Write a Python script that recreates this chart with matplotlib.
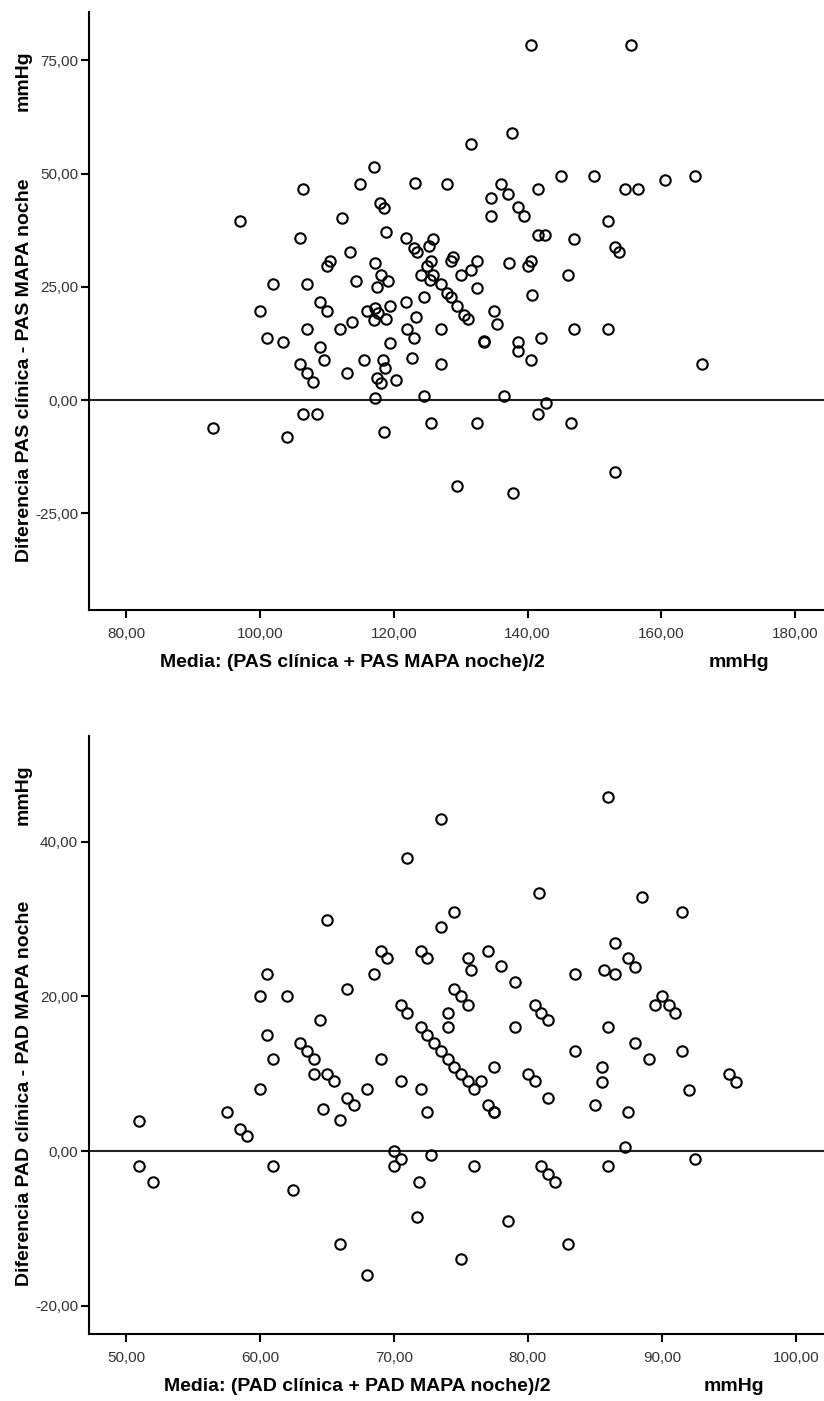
import matplotlib
matplotlib.use("Agg")
import matplotlib.pyplot as plt
from matplotlib.ticker import FuncFormatter

plt.rcParams['font.family'] = ['Liberation Sans', 'DejaVu Sans']

# Bland-Altman, PAS: media (x) y diferencia (y)
pas_media = [97.0, 106.5, 117.1, 115.0, 123.2, 118.0, 118.5, 112.2, 118.8, 106.0,
             121.9, 123.0, 123.4, 113.5, 110.5, 110.0, 117.2, 118.1, 119.2, 114.3,
             117.5, 102.0, 107.0, 109.0, 110.0, 100.0, 116.0, 117.2, 117.7, 119.4,
             121.9, 140.5, 155.5, 137.7, 131.5, 128.0, 136.0, 137.0, 134.5, 138.5,
             139.5, 134.5, 141.5, 145.0, 150.0, 154.5, 156.5, 160.5, 165.0, 152.0,
             141.5, 142.6, 147.0, 153.1, 153.6, 125.9, 125.3, 125.5, 124.9, 128.9,
             128.5, 132.5, 131.5, 130.0, 137.2, 140.5, 140.0, 124.0, 125.9, 125.4,
             127.0, 128.0, 128.5, 129.5, 130.5, 131.1, 132.5, 135.0, 146.0, 140.7,
             124.5, 123.3, 135.5, 117.0, 118.9, 122.0, 123.0, 127.0, 133.5, 133.5,
             138.5, 138.5, 142.0, 140.5, 107.0, 112.0, 113.7, 101.0, 103.5, 109.0,
             109.5, 106.0, 107.0, 108.0, 113.0, 115.5, 118.4, 118.7, 117.5, 118.1,
             120.3, 122.7, 127.0, 117.2, 124.5, 136.5, 142.7, 141.5, 106.5, 108.5,
             125.5, 132.5, 93.0, 104.0, 118.5, 119.4, 147.0, 152.0, 166.0, 146.5,
             153.1, 129.5, 137.8]
pas_diff = [39.6, 46.5, 51.5, 47.6, 48.0, 43.6, 42.5, 40.1, 37.1, 35.7,
            35.7, 33.5, 32.7, 32.6, 30.7, 29.6, 30.2, 27.6, 26.3, 26.3,
            24.9, 25.6, 25.6, 21.7, 19.7, 19.7, 19.7, 20.3, 19.2, 20.7,
            21.7, 78.3, 78.3, 59.0, 56.5, 47.6, 47.6, 45.6, 44.6, 42.6,
            40.6, 40.6, 46.5, 49.5, 49.5, 46.5, 46.5, 48.5, 49.5, 39.6,
            36.5, 36.5, 35.6, 33.7, 32.6, 35.6, 34.0, 30.7, 29.6, 31.6,
            30.7, 30.7, 28.7, 27.6, 30.2, 30.7, 29.6, 27.6, 27.6, 26.6,
            25.6, 23.7, 22.7, 20.7, 18.8, 17.8, 24.8, 19.7, 27.6, 23.2,
            22.8, 18.3, 16.8, 17.6, 17.8, 15.8, 13.7, 15.8, 12.9, 13.1,
            12.9, 10.8, 13.7, 8.8, 15.8, 15.8, 17.3, 13.8, 12.9, 11.8,
            8.8, 7.9, 5.9, 3.9, 5.9, 8.8, 8.8, 7.2, 5.0, 3.8,
            4.4, 9.3, 7.9, 0.4, 0.9, 0.9, -0.6, -3.1, -3.1, -3.1,
            -5.1, -5.1, -6.1, -8.1, -7.1, 12.7, 15.7, 15.7, 7.9, -5.1,
            -15.9, -18.9, -20.4]

# Bland-Altman, PAD
pad_media = [71.0, 65.0, 69.0, 69.5, 60.5, 68.5, 60.0, 62.0, 66.5, 70.5,
             71.0, 64.5, 60.5, 86.0, 73.5, 80.8, 88.5, 91.5, 74.5, 73.5,
             72.0, 72.5, 77.0, 75.5, 75.75, 78.0, 79.0, 83.5, 85.7, 86.5,
             86.5, 87.5, 88.0, 74.5, 75.0, 75.5, 80.5, 81.0, 81.5, 90.0,
             89.5, 90.5, 91.0, 74.0, 72.0, 72.5, 74.0, 79.0, 86.0, 63.0,
             63.5, 64.0, 64.0, 65.0, 65.5, 61.0, 60.0, 69.0, 66.5, 67.0,
             68.0, 64.7, 66.0, 70.5, 72.0, 72.5, 73.0, 73.5, 74.0, 74.5,
             75.0, 75.5, 76.0, 76.5, 77.5, 77.0, 77.5, 77.5, 80.0, 80.5,
             81.5, 70.0, 70.5, 70.0, 72.8, 61.0, 76.0, 81.0, 59.0, 51.0,
             51.0, 52.0, 57.5, 58.5, 62.5, 66.0, 68.0, 71.9, 71.7, 83.5,
             85.0, 85.5, 85.5, 88.0, 89.0, 87.5, 91.5, 92.0, 95.0, 95.5,
             87.25, 92.5, 81.5, 82.0, 86.0, 78.5, 83.0, 75.0]
pad_diff = [37.9, 29.9, 25.9, 24.9, 22.9, 22.9, 20.0, 20.0, 20.9, 18.9,
            17.9, 16.9, 15.0, 45.8, 42.9, 33.4, 32.9, 30.9, 30.9, 28.9,
            25.9, 24.9, 25.9, 24.9, 23.4, 23.9, 21.9, 22.9, 23.4, 22.9,
            26.9, 24.9, 23.8, 20.9, 20.0, 18.9, 18.9, 17.9, 16.9, 20.0,
            18.9, 18.9, 17.9, 17.9, 16.0, 15.0, 16.0, 16.0, 16.0, 13.9,
            12.9, 11.9, 9.9, 9.9, 9.0, 11.9, 8.0, 11.9, 6.9, 5.9,
            8.0, 5.4, 4.0, 9.0, 8.0, 5.0, 13.9, 12.9, 11.9, 10.9,
            9.9, 9.0, 8.0, 9.0, 10.9, 5.9, 5.0, 5.1, 9.9, 9.0,
            6.9, 0.0, -1.0, -2.0, -0.5, -2.0, -2.0, -2.0, 1.9, 3.9,
            -2.0, -4.0, 5.0, 2.9, -5.0, -12.0, -16.0, -4.0, -8.5, 12.9,
            5.9, 10.9, 8.9, 13.9, 11.9, 5.0, 12.9, 7.9, 9.9, 8.9,
            0.5, -1.0, -3.0, -4.0, -2.0, -9.0, -12.0, -14.0]

pas_xticks = [80, 100, 120, 140, 160, 180]
pas_yticks = [-25, 0, 25, 50, 75]
pad_xticks = [50, 60, 70, 80, 90, 100]
pad_yticks = [-20, 0, 20, 40]

coma = FuncFormatter(lambda v, pos: f"{v:.2f}".replace('.', ','))


def bland_altman(ax, media, diff, xlim, ylim, xticks, yticks, xlabel, ylabel,
                 xlab_pos, ylab_pos, xunit_pos, yunit_pos):
    ax.plot(media, diff, linestyle='none', marker='o', markersize=7.5,
            markerfacecolor='none', markeredgecolor='black', markeredgewidth=1.5,
            clip_on=False, zorder=3)
    ax.axhline(0, color='#222222', linewidth=1.5, zorder=2)
    ax.set_xlim(*xlim)
    ax.set_ylim(*ylim)
    ax.set_xticks(xticks)
    ax.set_yticks(yticks)
    ax.xaxis.set_major_formatter(coma)
    ax.yaxis.set_major_formatter(coma)
    for side in ['top', 'right']:
        ax.spines[side].set_visible(False)
    for side in ['left', 'bottom']:
        ax.spines[side].set_linewidth(1.5)
    ax.tick_params(direction='out', length=6, width=1.5, labelsize=11,
                   labelcolor='#333333', pad=2)
    ax.tick_params(axis='x', pad=6)
    ax.set_xlabel(xlabel, fontsize=14, fontweight='bold')
    ax.xaxis.set_label_coords(*xlab_pos)
    ax.set_ylabel(ylabel, fontsize=14, fontweight='bold')
    ax.yaxis.set_label_coords(*ylab_pos)
    ax.text(*xunit_pos, 'mmHg', transform=ax.transAxes, fontsize=14,
            fontweight='bold', ha='center', va='top')
    ax.text(*yunit_pos, 'mmHg', transform=ax.transAxes, fontsize=14,
            fontweight='bold', ha='center', va='center', rotation=90)


fig = plt.figure(figsize=(8.24, 14.01), dpi=100)

ax1 = fig.add_axes([0.1084, 0.5646, 0.8916, 0.4270])
bland_altman(ax1, pas_media, pas_diff, (74.5, 184.3), (-46.3, 85.7),
             pas_xticks, pas_yticks,
             'Media: (PAS clínica + PAS MAPA noche)/2',
             'Diferencia PAS clínica - PAS MAPA noche',
             (0.3576, -0.0735), (-0.0766, 0.401), (0.8843, -0.0735), (-0.0902, 0.884))

ax2 = fig.add_axes([0.1084, 0.0476, 0.8916, 0.4273])
bland_altman(ax2, pad_media, pad_diff, (47.26, 102.1), (-23.7, 53.7),
             pad_xticks, pad_yticks,
             'Media: (PAD clínica + PAD MAPA noche)/2',
             'Diferencia PAD clínica - PAD MAPA noche',
             (0.3644, -0.073), (-0.0766, 0.403), (0.8775, -0.073), (-0.0902, 0.901))

fig.savefig('out.png', dpi=100)
